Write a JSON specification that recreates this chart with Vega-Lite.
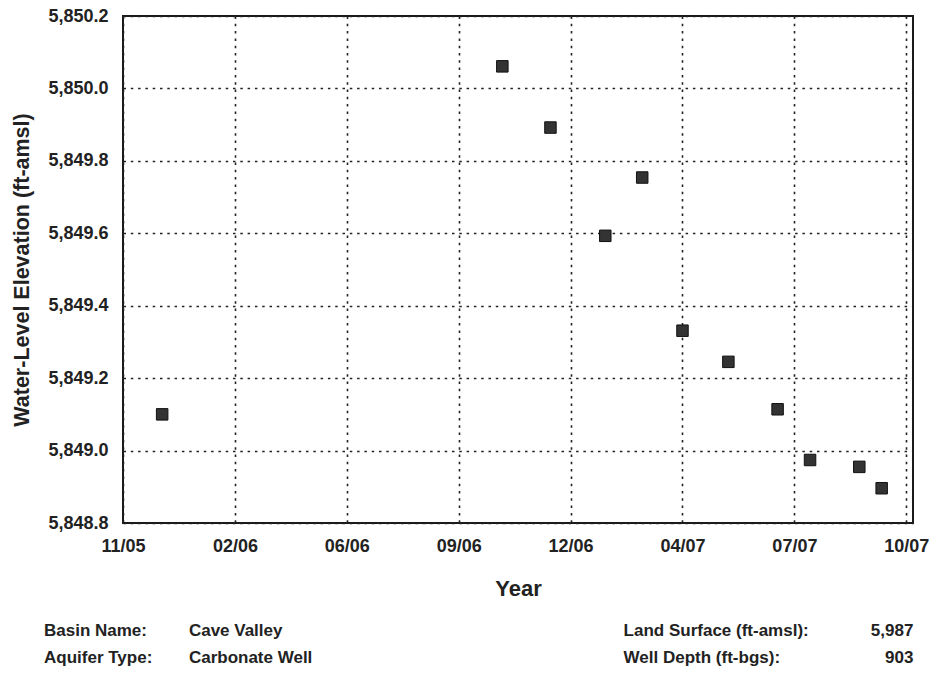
{
  "$schema": "https://vega.github.io/schema/vega-lite/v6.json",
  "width": 790,
  "height": 507,
  "autosize": {"type": "none"},
  "padding": {"left": 123, "top": 16, "right": 20, "bottom": 152},
  "background": "white",
  "config": {
    "font": "Liberation Sans",
    "view": {"stroke": "#1a1a1a", "strokeWidth": 2}
  },
  "datasets": {
    "wells": [
      {"date": "2005-12-23T00:00:00", "elev": 5849.10},
      {"date": "2006-10-23T00:00:00", "elev": 5850.061},
      {"date": "2006-12-05T00:00:00", "elev": 5849.892},
      {"date": "2007-01-23T00:00:00", "elev": 5849.593},
      {"date": "2007-02-25T00:00:00", "elev": 5849.754},
      {"date": "2007-04-02T00:00:00", "elev": 5849.331},
      {"date": "2007-05-13T00:00:00", "elev": 5849.245},
      {"date": "2007-06-26T00:00:00", "elev": 5849.114},
      {"date": "2007-07-25T00:00:00", "elev": 5848.974},
      {"date": "2007-09-07T00:00:00", "elev": 5848.955},
      {"date": "2007-09-27T00:00:00", "elev": 5848.896}
    ],
    "footer": [
      {"row": "r1", "col": "label", "text": "Basin Name:"},
      {"row": "r1", "col": "value", "text": "Cave Valley"},
      {"row": "r1", "col": "label2", "text": "Land Surface (ft-amsl):"},
      {"row": "r1", "col": "value2", "text": "5,987"},
      {"row": "r2", "col": "label", "text": "Aquifer Type:"},
      {"row": "r2", "col": "value", "text": "Carbonate Well"},
      {"row": "r2", "col": "label2", "text": "Well Depth (ft-bgs):"},
      {"row": "r2", "col": "value2", "text": "903"}
    ]
  },
  "layer": [
    {
      "data": {"name": "wells"},
      "mark": {"type": "point", "shape": "square", "filled": true, "size": 132, "color": "#333333", "stroke": "#111111", "strokeWidth": 1, "opacity": 1},
      "encoding": {
        "x": {
          "field": "date",
          "type": "temporal",
          "scale": {
            "domain": [
              {"year": 2005, "month": 11, "date": 18},
              {"year": 2007, "month": 10, "date": 25}
            ],
            "nice": false
          },
          "axis": {
            "title": "Year",
            "values": [
              {"year": 2005, "month": 11, "date": 18},
              {"year": 2006, "month": 2, "date": 26},
              {"year": 2006, "month": 6, "date": 6},
              {"year": 2006, "month": 9, "date": 14},
              {"year": 2006, "month": 12, "date": 23},
              {"year": 2007, "month": 4, "date": 2},
              {"year": 2007, "month": 7, "date": 11},
              {"year": 2007, "month": 10, "date": 19}
            ],
            "format": "%m/%y",
            "formatType": "time",
            "domain": false,
            "ticks": false,
            "tickSize": 0,
            "labelPadding": 14,
            "labelFont": "Liberation Sans",
            "labelFontSize": 18,
            "labelFontWeight": "bold",
            "labelColor": "#222222",
            "labelFlush": false,
            "labelOverlap": false,
            "titleFont": "Liberation Sans",
            "titleFontSize": 22,
            "titleFontWeight": "bold",
            "titleColor": "#222222",
            "titlePadding": 23,
            "grid": true,
            "gridColor": "#222222",
            "gridDash": [2.5, 4.8],
            "gridWidth": 1.6,
            "gridOpacity": 1
          }
        },
        "y": {
          "field": "elev",
          "type": "quantitative",
          "scale": {"domain": [5848.8, 5850.2], "nice": false, "zero": false},
          "axis": {
            "title": "Water-Level Elevation (ft-amsl)",
            "values": [5848.8, 5849.0, 5849.2, 5849.4, 5849.6, 5849.8, 5850.0, 5850.2],
            "format": ",.1f",
            "domain": false,
            "ticks": false,
            "tickSize": 0,
            "labelPadding": 15,
            "labelFont": "Liberation Sans",
            "labelFontSize": 18,
            "labelFontWeight": "bold",
            "labelColor": "#222222",
            "labelFlush": false,
            "labelOverlap": false,
            "titleFont": "Liberation Sans",
            "titleFontSize": 21.5,
            "titleFontWeight": "bold",
            "titleColor": "#222222",
            "titlePadding": 14,
            "grid": true,
            "gridColor": "#222222",
            "gridDash": [2.5, 4.8],
            "gridWidth": 1.6,
            "gridOpacity": 1
          }
        }
      }
    },
    {
      "data": {"name": "footer"},
      "transform": [{"filter": "datum.col !== 'value2'"}],
      "mark": {"type": "text", "align": "left", "baseline": "middle", "font": "Liberation Sans", "fontSize": 17, "fontWeight": "bold", "color": "#222222"},
      "encoding": {
        "x": {
          "field": "col",
          "type": "nominal",
          "scale": {"type": "point", "domain": ["label", "value", "s2", "s3", "label2", "s5", "value2"], "range": [-79, 790.4], "padding": 0},
          "axis": null
        },
        "y": {
          "field": "row",
          "type": "nominal",
          "scale": {"type": "point", "domain": ["r1", "r2"], "range": [615, 642], "padding": 0},
          "axis": null
        },
        "text": {"field": "text"}
      }
    },
    {
      "data": {"name": "footer"},
      "transform": [{"filter": "datum.col === 'value2'"}],
      "mark": {"type": "text", "align": "right", "baseline": "middle", "font": "Liberation Sans", "fontSize": 17, "fontWeight": "bold", "color": "#222222"},
      "encoding": {
        "x": {
          "field": "col",
          "type": "nominal",
          "scale": {"type": "point", "domain": ["label", "value", "s2", "s3", "label2", "s5", "value2"], "range": [-79, 790.4], "padding": 0},
          "axis": null
        },
        "y": {
          "field": "row",
          "type": "nominal",
          "scale": {"type": "point", "domain": ["r1", "r2"], "range": [615, 642], "padding": 0},
          "axis": null
        },
        "text": {"field": "text"}
      }
    }
  ],
  "resolve": {"scale": {"x": "independent", "y": "independent"}}
}
